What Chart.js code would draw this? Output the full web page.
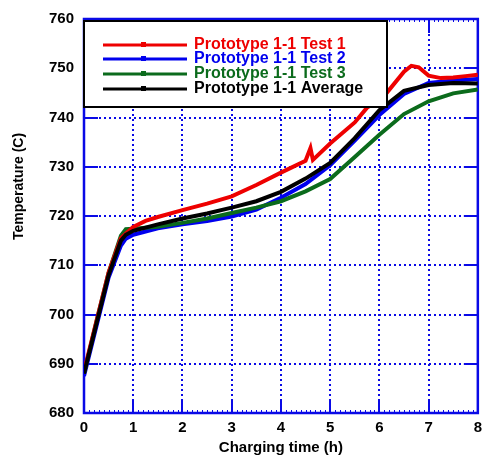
<!DOCTYPE html>
<html>
<head>
<meta charset="utf-8">
<script src="https://cdn.jsdelivr.net/npm/chart.js@4/dist/chart.umd.min.js"></script>
<style>
  html, body { margin: 0; padding: 0; background: #ffffff; }
  #wrap { width: 488px; height: 460px; }
</style>
</head>
<body>
<div id="wrap"><canvas id="chart" width="488" height="460"></canvas></div>
<script>
// Charging time (h) and temperature (C) readings for each run
const hours = [0, 0.25, 0.5, 0.75, 0.85, 1, 1.5, 2, 2.5, 3, 3.5, 4, 4.5, 5, 5.5, 6, 6.5, 7, 7.5, 8];
const test1Hours = [0, 0.25, 0.5, 0.75, 1, 1.25, 1.5, 2, 2.5, 3, 3.5, 4, 4.5, 4.6, 4.65, 5, 5.5, 5.75, 6, 6.15, 6.5, 6.65, 6.8, 7, 7.25, 7.5, 7.75, 8];
const test1Temps = [688.5, 698.5, 708.5, 715.5, 717.8, 719, 719.8, 721.2, 722.5, 724, 726.3, 728.8, 731.2, 733.8, 731.4, 734.7, 739, 742, 743.5, 745, 749.3, 750.5, 750.2, 748.5, 748, 748.1, 748.4, 748.7];
const test2Temps = [687.5, 697.5, 707.5, 714, 715.4, 716.2, 717.5, 718.3, 719, 719.9, 721.3, 723.7, 726.5, 730.3, 735.3, 740.5, 744.8, 747, 747.5, 747.8];
const test3Temps = [688, 698.5, 708.5, 716, 717.3, 717.4, 717.8, 718.6, 719.5, 720.6, 721.7, 723, 725, 727.5, 732, 736.5, 740.7, 743.3, 744.9, 745.7];
const averageTemps = [688, 698, 708, 715, 716.2, 717, 718.3, 719.5, 720.5, 721.7, 723, 724.9, 727.6, 730.8, 735.8, 741.5, 745.4, 746.6, 747, 746.9];

const seriesLabels = ['Prototype 1-1 Test 1', 'Prototype 1-1 Test 2', 'Prototype 1-1 Test 3', 'Prototype 1-1 Average'];
const xTicks = [0, 1, 2, 3, 4, 5, 6, 7, 8];
const yTicks = [680, 690, 700, 710, 720, 730, 740, 750, 760];
const xTitle = 'Charging time (h)';
const yTitle = 'Temperature (C)';

const AXIS_BLUE = '#0a0ae6';
const FONT = '"Liberation Sans", Arial, sans-serif';

function pts(xs, ys) { return xs.map((x, i) => ({ x: x, y: ys[i] })); }

// Dotted grid, solid frame and inward tick marks
const frame = {
  id: 'frame',
  beforeDatasetsDraw(chart) {
    const { ctx, chartArea: a, scales: { x, y } } = chart;
    ctx.save();
    ctx.strokeStyle = AXIS_BLUE;
    ctx.lineWidth = 2;
    ctx.setLineDash([2, 3]);
    xTicks.slice(1, -1).forEach(v => {
      const px = Math.round(x.getPixelForValue(v));
      ctx.beginPath(); ctx.moveTo(px, a.top); ctx.lineTo(px, a.bottom); ctx.stroke();
    });
    yTicks.slice(1, -1).forEach(v => {
      const py = Math.round(y.getPixelForValue(v));
      ctx.beginPath(); ctx.moveTo(a.left, py); ctx.lineTo(a.right, py); ctx.stroke();
    });
    ctx.setLineDash([]);
    // major ticks pointing into the plot on all four sides
    const major = 14;
    xTicks.forEach(v => {
      const px = Math.round(x.getPixelForValue(v));
      ctx.beginPath(); ctx.moveTo(px, a.bottom); ctx.lineTo(px, a.bottom - major); ctx.stroke();
      ctx.beginPath(); ctx.moveTo(px, a.top); ctx.lineTo(px, a.top + major); ctx.stroke();
    });
    yTicks.forEach(v => {
      const py = Math.round(y.getPixelForValue(v));
      ctx.beginPath(); ctx.moveTo(a.left, py); ctx.lineTo(a.left + major, py); ctx.stroke();
      ctx.beginPath(); ctx.moveTo(a.right, py); ctx.lineTo(a.right - major, py); ctx.stroke();
    });
    // minor ticks every 0.1 h along the time axis
    ctx.lineWidth = 1;
    for (let i = 0; i <= 80; i++) {
      const px = Math.round(x.getPixelForValue(i / 10)) + 0.5;
      ctx.beginPath(); ctx.moveTo(px, a.bottom); ctx.lineTo(px, a.bottom - 3); ctx.stroke();
      ctx.beginPath(); ctx.moveTo(px, a.top); ctx.lineTo(px, a.top + 3); ctx.stroke();
    }
    ctx.lineWidth = 2.5;
    ctx.strokeRect(a.left, a.top, a.right - a.left, a.bottom - a.top);
    ctx.restore();
  },
  afterDraw(chart) {
    const { ctx, chartArea: a } = chart;
    ctx.save();
    ctx.fillStyle = '#000000';
    ctx.font = 'bold 14px ' + FONT;
    ctx.textAlign = 'center';
    ctx.textBaseline = 'middle';
    ctx.translate(19, a.top + (a.bottom - a.top) * 0.425);
    ctx.rotate(-Math.PI / 2);
    ctx.fillText(yTitle, 0, 0);
    ctx.restore();
  }
};

// Boxed legend in the upper-left corner of the plot
const boxLegend = {
  id: 'boxLegend',
  afterDatasetsDraw(chart) {
    const { ctx, chartArea: a } = chart;
    const left = a.left, top = a.top + 2, w = 303, h = 86;
    ctx.save();
    ctx.fillStyle = '#ffffff';
    ctx.fillRect(left, top, w, h);
    ctx.strokeStyle = '#000000';
    ctx.lineWidth = 2;
    ctx.strokeRect(left, top, w, h);
    ctx.font = 'bold 16px ' + FONT;
    ctx.textBaseline = 'alphabetic';
    ctx.textAlign = 'left';
    chart.data.datasets.forEach((ds, row) => {
      const base = top + 27.5 + row * 14.7;
      const ly = Math.round(base - 4);
      ctx.strokeStyle = ds.borderColor;
      ctx.lineWidth = 3;
      ctx.beginPath(); ctx.moveTo(left + 19, ly); ctx.lineTo(left + 103, ly); ctx.stroke();
      ctx.fillStyle = ds.borderColor;
      ctx.fillRect(left + 57, ly - 3, 5, 5);
      ctx.fillText(ds.label, left + 110, base);
    });
    ctx.restore();
  }
};

const lineStyle = { borderWidth: 4, pointRadius: 0, fill: false, tension: 0 };

new Chart(document.getElementById('chart'), {
  type: 'line',
  data: {
    datasets: [
      Object.assign({ label: seriesLabels[0], data: pts(test1Hours, test1Temps), borderColor: '#ee0000', order: 1 }, lineStyle),
      Object.assign({ label: seriesLabels[1], data: pts(hours, test2Temps), borderColor: '#0000ee', order: 3 }, lineStyle),
      Object.assign({ label: seriesLabels[2], data: pts(hours, test3Temps), borderColor: '#0b6b1c', order: 2 }, lineStyle),
      Object.assign({ label: seriesLabels[3], data: pts(hours, averageTemps), borderColor: '#000000', order: 0 }, lineStyle)
    ]
  },
  options: {
    responsive: false,
    animation: false,
    devicePixelRatio: 1,
    layout: { padding: { top: 14, right: 4, left: 0, bottom: 0 } },
    plugins: { legend: { display: false }, tooltip: { enabled: false } },
    scales: {
      x: {
        type: 'linear', min: 0, max: 8,
        afterFit(s) { s.height = 47; },
        afterBuildTicks(s) { s.ticks = xTicks.map(v => ({ value: v })); },
        ticks: { color: '#000000', font: { family: FONT, size: 15, weight: 'bold' }, padding: 6, maxRotation: 0 },
        grid: { display: false, drawTicks: false },
        border: { display: false },
        title: { display: true, text: xTitle, color: '#000000', font: { family: FONT, size: 15, weight: 'bold' }, padding: { top: 0, bottom: 3 } }
      },
      y: {
        type: 'linear', min: 680, max: 760,
        afterFit(s) { s.width = 84; },
        afterBuildTicks(s) { s.ticks = yTicks.map(v => ({ value: v })); },
        ticks: { color: '#000000', font: { family: FONT, size: 15, weight: 'bold' }, padding: 10 },
        grid: { display: false, drawTicks: false },
        border: { display: false }
      }
    }
  },
  plugins: [frame, boxLegend]
});
</script>
</body>
</html>
